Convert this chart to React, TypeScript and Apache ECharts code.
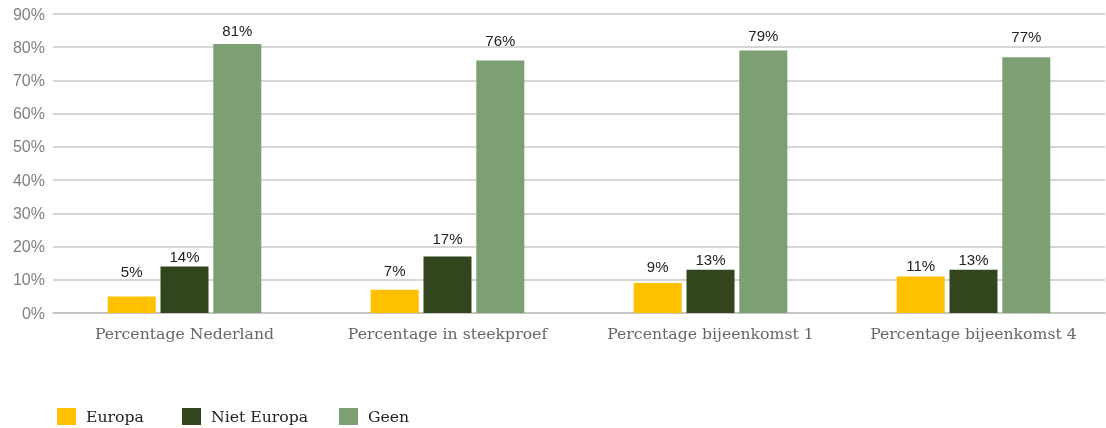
import React, { useEffect, useRef } from "react";
import * as echarts from "echarts";

const categories = [
  "Percentage Nederland",
  "Percentage in steekproef",
  "Percentage bijeenkomst 1",
  "Percentage bijeenkomst 4",
];
const europa = [5, 7, 9, 11];
const nietEuropa = [14, 17, 13, 13];
const geen = [81, 76, 79, 77];
const yTicks = [0, 10, 20, 30, 40, 50, 60, 70, 80, 90];

const seriesNames = ["Europa", "Niet Europa", "Geen"];
const colors = ["#FFC000", "#33451D", "#7CA074"];
// label spacing above bars (style only)
const labelDistances = [
  [17, 12, 9, 3],
  [2, 11, 3, 3],
  [6, 13, 8, 13],
];
const slab = "'DejaVu Serif', serif";
const sans = "'Liberation Sans', Arial, sans-serif";

export default function App() {
  const ref = useRef<HTMLDivElement>(null);
  useEffect(() => {
    if (!ref.current) return;
    const chart = echarts.init(ref.current, null, { renderer: "svg" });
    const values = [europa, nietEuropa, geen];
    const legendLefts = [57, 182, 339];
    chart.setOption({
      animation: false,
      grid: { left: 53, right: 1, top: 14, bottom: 115, containLabel: false },
      legend: seriesNames.map((n, i) => ({
        data: [n],
        left: legendLefts[i],
        top: 408,
        itemWidth: 19,
        itemHeight: 17,
        icon: "rect",
        padding: 0,
        textStyle: {
          fontFamily: slab,
          fontSize: 15.7,
          color: "#222",
          padding: [0, 0, 0, 5],
        },
      })),
      xAxis: {
        type: "category",
        data: categories,
        axisTick: { show: false },
        axisLine: { lineStyle: { color: "#bfbfbf", width: 1.5 } },
        axisLabel: {
          interval: 0,
          hideOverlap: false,
          fontFamily: slab,
          fontSize: 15.7,
          color: "#666",
          margin: 12,
        },
      },
      yAxis: {
        type: "value",
        min: 0,
        max: yTicks[yTicks.length - 1],
        interval: 10,
        axisLabel: {
          formatter: "{value}%",
          fontFamily: sans,
          fontSize: 16,
          color: "#808080",
          margin: 8,
        },
        splitLine: { lineStyle: { color: "#c8c8c8", width: 1.5 } },
      },
      series: seriesNames.map((n, i) => ({
        name: n,
        type: "bar",
        data: values[i].map((v, j) => ({
          value: v,
          label: { distance: labelDistances[i][j] },
        })),
        barWidth: 48,
        barGap: "10%",
        itemStyle: { color: colors[i] },
        label: {
          show: true,
          position: "top",
          formatter: "{c}%",
          fontFamily: sans,
          fontSize: 15,
          color: "#222",
        },
      })),
    });
    return () => chart.dispose();
  }, []);
  return (
    <div
      ref={ref}
      style={{ position: "fixed", left: 0, top: 0, width: 1106, height: 428 }}
    />
  );
}
